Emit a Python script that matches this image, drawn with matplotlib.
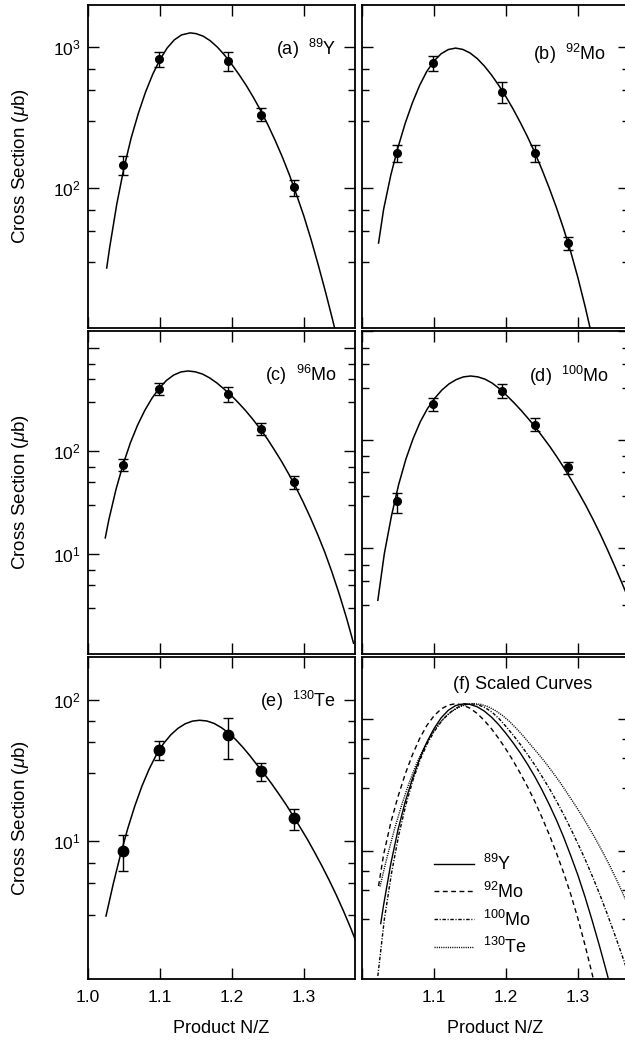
# ==========================================
# CROSS SECTIONS VS PRODUCT N/Z - 6 PANELS
# ==========================================

import numpy as np
import matplotlib
matplotlib.use('Agg')
import matplotlib.pyplot as plt
from matplotlib.ticker import LogLocator, NullFormatter, FixedLocator, FixedFormatter

# %%
# =============================================================================
# 1. DATA
# =============================================================================

# measured points (same N/Z for every target)
nz_points = [1.048, 1.098, 1.194, 1.240, 1.286]

y89_sigma = [146, 822, 800, 331, 102]
y89_lo = [124, 721, 676, 299, 88]
y89_hi = [169, 922, 922, 369, 114]

mo92_sigma = [179, 774, 479, 179, 40.6]
mo92_lo = [154, 682, 402, 154, 36.5]
mo92_hi = [202, 873, 564, 202, 45]

mo96_sigma = [72.6, 401, 353, 162, 50]
mo96_lo = [63, 348, 294, 142, 43]
mo96_hi = [83, 458, 416, 184, 57]

mo100_sigma = [27.1, 212, 280, 137, 55.9]
mo100_lo = [21.3, 184, 240, 121, 48.5]
mo100_hi = [32.5, 240, 323, 157, 62]

te130_sigma = [8.5, 43.6, 56.4, 31.0, 14.4]
te130_lo = [6.1, 37.1, 38.1, 26.7, 11.9]
te130_hi = [10.9, 50.8, 74.5, 35.5, 16.8]

# fitted curves
curve89_x = [1.026, 1.03, 1.04, 1.05, 1.06, 1.07, 1.08, 1.09, 1.10, 1.11, 1.12, 1.13,
             1.142, 1.15, 1.16, 1.17, 1.18, 1.19, 1.20, 1.21, 1.22, 1.23, 1.24, 1.25,
             1.26, 1.27, 1.28, 1.29, 1.30, 1.31, 1.32, 1.33, 1.34, 1.35]
curve89_y = [27.2, 37.7, 77.3, 140, 228, 341, 483, 646, 820, 991, 1132, 1227,
             1268, 1253, 1202, 1114, 1002, 879, 755, 640, 536, 440, 356, 282,
             219, 167, 124, 89.3, 63.4, 43.2, 28.5, 18.4, 11.6, 7.13]

curve92_x = [1.023, 1.03, 1.04, 1.05, 1.06, 1.07, 1.08, 1.09, 1.10, 1.11, 1.12, 1.13,
             1.14, 1.15, 1.16, 1.17, 1.18, 1.19, 1.20, 1.21, 1.22, 1.23, 1.24, 1.25,
             1.26, 1.27, 1.28, 1.29, 1.30, 1.31, 1.32, 1.33]
curve92_y = [40.9, 70.8, 124, 195, 289, 404, 537, 675, 800, 902, 966, 989,
             968, 914, 834, 738, 637, 538, 447, 365, 293, 232, 180, 136,
             101, 73.3, 51.9, 35.5, 23.2, 14.5, 8.71, 5.07]

curve96_x = [1.024, 1.029, 1.039, 1.049, 1.059, 1.069, 1.079, 1.089, 1.099, 1.109, 1.119, 1.129,
             1.139, 1.149, 1.159, 1.169, 1.179, 1.189, 1.199, 1.209, 1.219, 1.229, 1.239, 1.249,
             1.259, 1.269, 1.279, 1.289, 1.299, 1.309, 1.319, 1.329, 1.339, 1.349, 1.359, 1.369]
curve96_y = [14.3, 21.5, 42.5, 74.6, 120, 178, 247, 324, 404, 481, 542, 581,
             594, 583, 555, 509, 455, 397, 344, 292, 245, 202, 164, 131,
             102, 78.7, 59.4, 44.0, 31.8, 22.5, 15.5, 10.4, 6.65, 4.10, 2.42, 1.36]

curve100_x = [1.022, 1.031, 1.041, 1.051, 1.061, 1.071, 1.081, 1.091, 1.101, 1.111, 1.121, 1.131,
              1.141, 1.151, 1.161, 1.171, 1.181, 1.191, 1.201, 1.211, 1.221, 1.231, 1.241, 1.251,
              1.261, 1.271, 1.281, 1.291, 1.301, 1.311, 1.321, 1.331, 1.341, 1.351, 1.361, 1.371]
curve100_y = [3.31, 8.87, 19.9, 38.7, 66.1, 102, 146, 193, 240, 286, 326, 357,
              378, 385, 378, 360, 331, 294, 255, 219, 186, 156, 130, 106,
              86.3, 69.0, 54.5, 42.3, 32.5, 24.7, 18.4, 13.5, 9.70, 6.87, 4.81, 3.33]

curve130_x = [1.025, 1.035, 1.045, 1.055, 1.065, 1.075, 1.085, 1.095, 1.105, 1.115, 1.125, 1.135,
              1.145, 1.155, 1.165, 1.175, 1.185, 1.195, 1.205, 1.215, 1.225, 1.235, 1.245, 1.255,
              1.265, 1.275, 1.285, 1.295, 1.305, 1.315, 1.325, 1.335, 1.345, 1.355, 1.365, 1.375]
curve130_y = [2.93, 4.93, 7.91, 12.1, 17.6, 24.4, 32.2, 40.6, 48.8, 56.2, 62.5, 67.3,
              70.3, 71.3, 70.5, 67.8, 63.4, 58.2, 52.2, 46.0, 40.0, 34.4, 29.7, 25.4,
              21.5, 18.1, 15.0, 12.4, 10.2, 8.26, 6.64, 5.27, 4.13, 3.18, 2.41, 1.79]

# peak height used in the scaled panel
scaled_peak = 13.0

x_ticks = [1.0, 1.1, 1.2, 1.3]
x_ticklabels = ['1.0', '1.1', '1.2', '1.3']


# %%
# =============================================================================
# 2. STYLE
# =============================================================================

plt.rcParams['font.family'] = ['Liberation Sans', 'DejaVu Sans']
plt.rcParams['mathtext.fontset'] = 'custom'
plt.rcParams['mathtext.rm'] = 'Liberation Sans'
plt.rcParams['mathtext.it'] = 'Liberation Sans:italic'
plt.rcParams['mathtext.bf'] = 'Liberation Sans:bold'
plt.rcParams['font.size'] = 12.5

W, H = 625, 1040
fig = plt.figure(figsize=(W / 100, H / 100), dpi=100)


def px_axes(left, top, right, bottom):
    return fig.add_axes([left / W, 1 - bottom / H, (right - left) / W, (bottom - top) / H])


col_x = [(88, 355), (362, 629)]
row_y = [(5, 328), (331, 654), (657, 979)]

ax_a = px_axes(col_x[0][0], row_y[0][0], col_x[0][1], row_y[0][1])
ax_b = px_axes(col_x[1][0], row_y[0][0], col_x[1][1], row_y[0][1])
ax_c = px_axes(col_x[0][0], row_y[1][0], col_x[0][1], row_y[1][1])
ax_d = px_axes(col_x[1][0], row_y[1][0], col_x[1][1], row_y[1][1])
ax_e = px_axes(col_x[0][0], row_y[2][0], col_x[0][1], row_y[2][1])
ax_f = px_axes(col_x[1][0], row_y[2][0], col_x[1][1], row_y[2][1])


def style_axes(ax, ylim):
    ax.set_yscale('log')
    ax.set_xlim(1.0, 1.371)
    ax.set_ylim(*ylim)
    ax.xaxis.set_major_locator(FixedLocator(x_ticks))
    ax.yaxis.set_major_locator(LogLocator(base=10, numticks=20))
    ax.yaxis.set_minor_locator(LogLocator(base=10, subs=(3, 5, 7), numticks=20))
    ax.yaxis.set_minor_formatter(NullFormatter())
    ax.tick_params(which='both', direction='in', top=True, right=True, colors='k')
    ax.tick_params(which='major', length=8, width=1)
    ax.tick_params(which='minor', length=5, width=1)
    ax.tick_params(axis='x', pad=8)
    ax.tick_params(axis='y', pad=5)
    ax.set_xticklabels([])
    for s in ax.spines.values():
        s.set_linewidth(1.3)


style_axes(ax_a, (10.2, 2000))
style_axes(ax_b, (10.2, 2000))
style_axes(ax_c, (1.07, 1450))
style_axes(ax_d, (1.06, 1000))
style_axes(ax_e, (1.05, 200))
style_axes(ax_f, (0.106, 29.4))

for ax in (ax_b, ax_d, ax_f):
    ax.set_yticklabels([])

ax_c.yaxis.set_major_locator(FixedLocator([1, 10, 100, 1000]))
ax_c.yaxis.set_major_formatter(FixedFormatter(['', '$10^1$', '$10^2$', '']))

ax_e.set_xticklabels(x_ticklabels)
ax_f.set_xticklabels([''] + x_ticklabels[1:])

for ax in (ax_a, ax_c, ax_e):
    ax.set_ylabel(r'Cross Section ($\mu$b)', fontsize=13.5)
    ax.yaxis.set_label_coords(-0.212, 0.5)

for ax in (ax_e, ax_f):
    ax.set_xlabel('Product N/Z', fontsize=13)
    ax.xaxis.set_label_coords(0.5, -0.128)


# %%
# =============================================================================
# 3. PANELS (a)-(e)
# =============================================================================

def draw_panel(ax, cx, cy, sigma, lo, hi, ms):
    ax.plot(cx, cy, color='k', lw=1.1)
    s = np.array(sigma)
    err = [s - np.array(lo), np.array(hi) - s]
    ax.errorbar(nz_points, sigma, yerr=err, fmt='o', color='k', ms=ms,
                capsize=3.5, elinewidth=1, capthick=1)


draw_panel(ax_a, curve89_x, curve89_y, y89_sigma, y89_lo, y89_hi, 5.5)
draw_panel(ax_b, curve92_x, curve92_y, mo92_sigma, mo92_lo, mo92_hi, 5.5)
draw_panel(ax_c, curve96_x, curve96_y, mo96_sigma, mo96_lo, mo96_hi, 5.5)
draw_panel(ax_d, curve100_x, curve100_y, mo100_sigma, mo100_lo, mo100_hi, 5.5)
draw_panel(ax_e, curve130_x, curve130_y, te130_sigma, te130_lo, te130_hi, 7.5)

lab_kw = dict(va='center', fontsize=13)
ax_a.text(0.705, 0.865, '(a)  $^{89}$Y', transform=ax_a.transAxes, **lab_kw)
ax_b.text(0.64, 0.85, '(b)  $^{92}$Mo', transform=ax_b.transAxes, **lab_kw)
ax_c.text(0.663, 0.865, '(c)  $^{96}$Mo', transform=ax_c.transAxes, **lab_kw)
ax_d.text(0.625, 0.86, '(d)  $^{100}$Mo', transform=ax_d.transAxes, **lab_kw)
ax_e.text(0.644, 0.865, '(e)  $^{130}$Te', transform=ax_e.transAxes, **lab_kw)


# %%
# =============================================================================
# 4. PANEL (f) - SCALED CURVES
# =============================================================================

scaled = [
    (curve89_x, curve89_y, '-', '$^{89}$Y'),
    (curve92_x, curve92_y, (0, (3.5, 2.5)), '$^{92}$Mo'),
    (curve100_x, curve100_y, (0, (2.5, 1.2, 0.8, 1.2)), '$^{100}$Mo'),
    (curve130_x, curve130_y, (0, (0.8, 0.8)), '$^{130}$Te'),
]
for cx, cy, ls, lab in scaled:
    cy = np.array(cy)
    ax_f.plot(cx, cy * scaled_peak / cy.max(), color='k', lw=1.0, ls=ls, label=lab)

ax_f.text(0.34, 0.915, '(f) Scaled Curves', transform=ax_f.transAxes, **lab_kw)
ax_f.legend(loc='upper left', bbox_to_anchor=(0.27, 0.389), frameon=False,
            handlelength=2.2, handletextpad=0.5, labelspacing=0.43,
            borderpad=0, borderaxespad=0, fontsize=13)

fig.savefig('out.png', dpi=100)
